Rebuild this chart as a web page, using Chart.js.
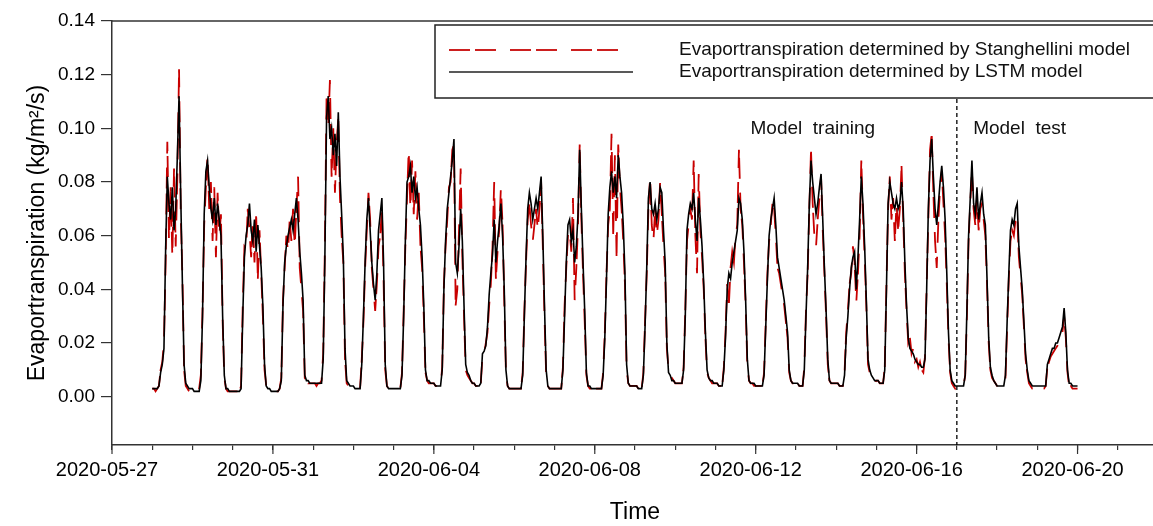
<!DOCTYPE html>
<html>
<head>
<meta charset="utf-8">
<script src="https://cdn.jsdelivr.net/npm/chart.js@4.4.0/dist/chart.umd.min.js"></script>
<style>
  html, body { margin: 0; padding: 0; background: #fff; overflow: hidden; }
  #wrap { width: 1153px; height: 526px; overflow: hidden; }
  canvas { display: block; }
</style>
</head>
<body>
<div id="wrap"><canvas id="myChart" width="1166" height="526"></canvas></div>
<script>
// hourly values, first point = 2020-05-28 00:00 (day 1 on the axis, axis day 0 = 2020-05-27)
const startDay = 1;

const lstm = [
  /* 05-28 */ 0.003,0.003,0.003,0.003,0.004,0.009,0.012,0.018,0.055,0.082,0.072,0.066,0.078,0.062,0.070,0.090,0.112,0.075,0.042,0.012,0.005,0.004,0.003,0.003,
  /* 05-29 */ 0.003,0.002,0.002,0.002,0.002,0.006,0.030,0.068,0.084,0.088,0.078,0.070,0.066,0.074,0.064,0.072,0.066,0.060,0.030,0.008,0.003,0.003,0.002,0.002,
  /* 05-30 */ 0.002,0.002,0.002,0.002,0.002,0.003,0.030,0.052,0.060,0.064,0.072,0.062,0.058,0.066,0.054,0.064,0.056,0.048,0.034,0.012,0.004,0.003,0.003,0.002,
  /* 05-31 */ 0.002,0.002,0.002,0.002,0.003,0.006,0.034,0.050,0.056,0.060,0.063,0.066,0.062,0.068,0.074,0.066,0.054,0.046,0.036,0.008,0.006,0.006,0.005,0.005,
  /* 06-01 */ 0.005,0.005,0.005,0.005,0.005,0.005,0.014,0.052,0.104,0.112,0.096,0.100,0.090,0.098,0.086,0.106,0.082,0.068,0.052,0.018,0.006,0.005,0.004,0.004,
  /* 06-02 */ 0.004,0.003,0.003,0.003,0.003,0.012,0.030,0.050,0.066,0.074,0.062,0.050,0.042,0.036,0.046,0.062,0.068,0.074,0.050,0.012,0.004,0.003,0.003,0.003,
  /* 06-03 */ 0.003,0.003,0.003,0.003,0.003,0.008,0.030,0.058,0.080,0.082,0.086,0.076,0.082,0.074,0.078,0.070,0.064,0.052,0.034,0.010,0.006,0.006,0.005,0.005,
  /* 06-04 */ 0.005,0.004,0.004,0.004,0.004,0.010,0.040,0.058,0.070,0.076,0.082,0.088,0.096,0.050,0.046,0.056,0.070,0.058,0.034,0.012,0.009,0.008,0.006,0.005,
  /* 06-05 */ 0.005,0.004,0.004,0.004,0.005,0.016,0.017,0.019,0.026,0.038,0.046,0.053,0.066,0.050,0.058,0.064,0.072,0.060,0.040,0.010,0.004,0.003,0.003,0.003,
  /* 06-06 */ 0.003,0.003,0.003,0.003,0.003,0.008,0.030,0.052,0.070,0.076,0.072,0.066,0.070,0.074,0.070,0.076,0.082,0.060,0.034,0.010,0.004,0.003,0.003,0.003,
  /* 06-07 */ 0.003,0.003,0.003,0.003,0.003,0.010,0.030,0.050,0.064,0.066,0.058,0.062,0.050,0.056,0.068,0.092,0.070,0.050,0.032,0.009,0.004,0.004,0.003,0.003,
  /* 06-08 */ 0.003,0.003,0.003,0.003,0.003,0.008,0.022,0.044,0.068,0.078,0.084,0.076,0.082,0.074,0.090,0.082,0.076,0.064,0.046,0.012,0.005,0.004,0.004,0.004,
  /* 06-09 */ 0.004,0.004,0.003,0.003,0.003,0.008,0.026,0.048,0.074,0.080,0.070,0.068,0.072,0.066,0.070,0.078,0.076,0.062,0.050,0.020,0.009,0.008,0.006,0.006,
  /* 06-10 */ 0.005,0.005,0.005,0.005,0.005,0.010,0.030,0.062,0.068,0.072,0.070,0.076,0.066,0.058,0.074,0.066,0.056,0.042,0.024,0.010,0.007,0.006,0.006,0.005,
  /* 06-11 */ 0.005,0.005,0.004,0.004,0.004,0.010,0.022,0.040,0.046,0.044,0.050,0.054,0.058,0.062,0.074,0.072,0.066,0.054,0.036,0.014,0.006,0.005,0.005,0.005,
  /* 06-12 */ 0.004,0.004,0.004,0.004,0.004,0.008,0.026,0.044,0.060,0.066,0.070,0.074,0.064,0.052,0.048,0.044,0.040,0.036,0.030,0.024,0.010,0.006,0.005,0.005,
  /* 06-13 */ 0.005,0.005,0.004,0.004,0.004,0.010,0.030,0.048,0.072,0.088,0.080,0.074,0.068,0.072,0.078,0.083,0.066,0.048,0.032,0.014,0.006,0.005,0.005,0.005,
  /* 06-14 */ 0.005,0.005,0.004,0.004,0.004,0.008,0.022,0.030,0.040,0.048,0.052,0.054,0.040,0.052,0.066,0.082,0.072,0.056,0.036,0.014,0.010,0.008,0.007,0.006,
  /* 06-15 */ 0.006,0.006,0.005,0.005,0.005,0.010,0.040,0.072,0.080,0.076,0.072,0.070,0.074,0.070,0.072,0.080,0.070,0.050,0.034,0.022,0.018,0.017,0.016,0.014,
  /* 06-16 */ 0.013,0.012,0.012,0.011,0.011,0.014,0.040,0.070,0.088,0.096,0.082,0.070,0.064,0.072,0.080,0.086,0.078,0.066,0.046,0.024,0.010,0.006,0.005,0.004,
  /* 06-17 */ 0.004,0.004,0.004,0.004,0.004,0.008,0.032,0.060,0.074,0.088,0.072,0.068,0.078,0.066,0.072,0.076,0.068,0.064,0.044,0.022,0.011,0.008,0.006,0.005,
  /* 06-18 */ 0.004,0.004,0.004,0.004,0.004,0.008,0.028,0.046,0.062,0.066,0.064,0.070,0.072,0.056,0.048,0.040,0.028,0.016,0.010,0.006,0.005,0.004,0.004,0.004,
  /* 06-19 */ 0.004,0.004,0.004,0.004,0.004,0.004,0.012,0.014,0.016,0.018,0.018,0.020,0.020,0.022,0.024,0.026,0.033,0.024,0.010,0.005,0.005,0.004,0.004,0.004,
  /* 06-20 */ 0.004
];

const stanghellini = [
  /* 05-28 */ 0.003,0.003,0.002,0.003,0.004,0.010,0.013,0.020,0.050,0.095,0.058,0.078,0.052,0.085,0.056,0.082,0.122,0.068,0.045,0.010,0.004,0.003,0.002,0.002,
  /* 05-29 */ 0.003,0.002,0.002,0.002,0.003,0.008,0.032,0.064,0.078,0.090,0.070,0.080,0.058,0.078,0.052,0.076,0.060,0.068,0.028,0.007,0.003,0.002,0.002,0.002,
  /* 05-30 */ 0.002,0.002,0.002,0.002,0.002,0.004,0.034,0.056,0.055,0.070,0.062,0.052,0.066,0.050,0.068,0.044,0.062,0.046,0.030,0.010,0.004,0.003,0.002,0.002,
  /* 05-31 */ 0.002,0.002,0.002,0.002,0.003,0.007,0.036,0.048,0.060,0.054,0.066,0.058,0.070,0.056,0.070,0.082,0.048,0.040,0.032,0.007,0.006,0.005,0.005,0.005,
  /* 06-01 */ 0.005,0.005,0.004,0.005,0.005,0.006,0.016,0.056,0.112,0.100,0.118,0.082,0.100,0.076,0.094,0.104,0.074,0.060,0.050,0.014,0.005,0.004,0.004,0.004,
  /* 06-02 */ 0.004,0.003,0.003,0.003,0.003,0.014,0.028,0.048,0.062,0.076,0.066,0.048,0.040,0.032,0.042,0.056,0.060,0.070,0.044,0.010,0.004,0.003,0.003,0.003,
  /* 06-03 */ 0.003,0.003,0.003,0.003,0.003,0.009,0.032,0.056,0.074,0.092,0.070,0.088,0.068,0.084,0.066,0.076,0.056,0.048,0.030,0.009,0.006,0.005,0.005,0.005,
  /* 06-04 */ 0.005,0.004,0.004,0.004,0.004,0.011,0.042,0.056,0.066,0.078,0.080,0.092,0.094,0.034,0.040,0.062,0.085,0.052,0.030,0.010,0.008,0.007,0.006,0.005,
  /* 06-05 */ 0.005,0.004,0.004,0.004,0.005,0.015,0.016,0.020,0.024,0.034,0.042,0.056,0.080,0.044,0.054,0.062,0.078,0.064,0.036,0.009,0.004,0.003,0.003,0.003,
  /* 06-06 */ 0.003,0.003,0.003,0.003,0.003,0.009,0.032,0.050,0.066,0.072,0.064,0.058,0.064,0.070,0.062,0.070,0.080,0.056,0.030,0.008,0.004,0.003,0.003,0.003,
  /* 06-07 */ 0.003,0.003,0.003,0.003,0.003,0.011,0.034,0.048,0.060,0.062,0.054,0.074,0.036,0.048,0.064,0.094,0.066,0.046,0.028,0.008,0.004,0.003,0.003,0.003,
  /* 06-08 */ 0.003,0.003,0.003,0.003,0.003,0.009,0.024,0.046,0.064,0.070,0.098,0.060,0.090,0.052,0.094,0.078,0.070,0.058,0.042,0.010,0.005,0.004,0.004,0.004,
  /* 06-09 */ 0.004,0.004,0.003,0.003,0.003,0.009,0.028,0.046,0.070,0.082,0.064,0.058,0.070,0.060,0.066,0.080,0.068,0.056,0.046,0.018,0.010,0.008,0.007,0.006,
  /* 06-10 */ 0.005,0.005,0.005,0.005,0.005,0.011,0.032,0.058,0.064,0.070,0.066,0.088,0.060,0.046,0.083,0.062,0.052,0.040,0.022,0.009,0.007,0.006,0.005,0.005,
  /* 06-11 */ 0.005,0.005,0.004,0.004,0.004,0.011,0.024,0.042,0.034,0.048,0.054,0.050,0.060,0.064,0.092,0.070,0.064,0.050,0.034,0.012,0.006,0.005,0.005,0.004,
  /* 06-12 */ 0.004,0.004,0.004,0.004,0.004,0.009,0.028,0.046,0.058,0.064,0.072,0.070,0.060,0.048,0.046,0.042,0.038,0.034,0.028,0.022,0.009,0.006,0.005,0.005,
  /* 06-13 */ 0.005,0.005,0.004,0.004,0.004,0.011,0.032,0.046,0.070,0.092,0.072,0.060,0.056,0.066,0.074,0.082,0.062,0.046,0.030,0.012,0.006,0.005,0.005,0.005,
  /* 06-14 */ 0.005,0.005,0.004,0.004,0.004,0.009,0.024,0.032,0.042,0.046,0.056,0.050,0.035,0.046,0.060,0.088,0.068,0.052,0.034,0.012,0.009,0.008,0.006,0.005,
  /* 06-15 */ 0.006,0.006,0.005,0.005,0.005,0.011,0.042,0.070,0.082,0.066,0.074,0.058,0.072,0.062,0.070,0.086,0.066,0.046,0.032,0.020,0.022,0.016,0.018,0.013,
  /* 06-16 */ 0.014,0.011,0.013,0.010,0.009,0.015,0.042,0.066,0.092,0.098,0.076,0.058,0.048,0.066,0.078,0.084,0.072,0.060,0.042,0.022,0.009,0.005,0.004,0.003,
  /* 06-17 */ 0.004,0.004,0.004,0.004,0.004,0.008,0.030,0.058,0.072,0.084,0.070,0.064,0.074,0.062,0.070,0.072,0.066,0.060,0.042,0.020,0.010,0.007,0.006,0.005,
  /* 06-18 */ 0.004,0.004,0.004,0.004,0.004,0.007,0.026,0.044,0.058,0.062,0.060,0.066,0.068,0.052,0.045,0.038,0.026,0.014,0.009,0.005,0.004,0.003,0.003,0.003,
  /* 06-19 */ 0.004,0.004,0.003,0.003,0.003,0.004,0.011,0.013,0.015,0.016,0.017,0.018,0.019,0.020,0.022,0.024,0.030,0.022,0.009,0.004,0.004,0.003,0.003,0.003,
  /* 06-20 */ 0.003
];

const xTickLabels = ['2020-05-27', '2020-05-31', '2020-06-04', '2020-06-08', '2020-06-12', '2020-06-16', '2020-06-20'];
const yTicks = [0, 0.02, 0.04, 0.06, 0.08, 0.10, 0.12, 0.14];
const splitDay = 21; // 2020-06-17, end of training

const legendNames = [
  'Evaportranspiration determined by Stanghellini model',
  'Evaportranspiration determined by LSTM model'
];

const fam = "'Liberation Sans', Arial, sans-serif";

const lstmPts = lstm.map((v, i) => ({ x: startDay + i / 24, y: v }));
const stanPts = stanghellini.map((v, i) => ({ x: startDay + i / 24, y: v }));

// frame, legend box, split line, annotations
const extras = {
    id: 'extras',
    afterDraw(chart) {
        const c = chart.ctx;
        const a = chart.chartArea;
        const xs = chart.scales.x;
        const ys = chart.scales.y;
        c.save();

        // top frame line
        c.strokeStyle = '#333';
        c.lineWidth = 1.5;
        c.beginPath();
        c.moveTo(a.left, a.top);
        c.lineTo(a.right + 10, a.top);
        c.stroke();

        // longer major ticks on x
        c.lineWidth = 1.2;
        for (let d = 0; d <= 26; d += 4) {
            const px = xs.getPixelForValue(d);
            c.beginPath();
            c.moveTo(px, a.bottom);
            c.lineTo(px, a.bottom + 9);
            c.stroke();
        }

        // training / test split
        const sx = xs.getPixelForValue(splitDay);
        c.strokeStyle = '#000';
        c.lineWidth = 1.3;
        c.setLineDash([4, 3]);
        c.beginPath();
        c.moveTo(sx, 99);
        c.lineTo(sx, a.bottom);
        c.stroke();
        c.setLineDash([]);

        // legend box
        c.fillStyle = '#fff';
        c.fillRect(435, 25, 760, 73);
        c.strokeStyle = '#222';
        c.lineWidth = 1.5;
        c.strokeRect(435, 25, 760, 73);

        c.strokeStyle = '#cc1f1f';
        c.lineWidth = 1.8;
        c.setLineDash([21, 5, 21, 14]);
        c.beginPath();
        c.moveTo(449, 50);
        c.lineTo(618, 50);
        c.stroke();
        c.setLineDash([]);

        c.strokeStyle = '#222';
        c.lineWidth = 1.5;
        c.beginPath();
        c.moveTo(449, 72);
        c.lineTo(633, 72);
        c.stroke();

        c.fillStyle = '#111';
        c.font = '19px ' + fam;
        c.textBaseline = 'middle';
        c.textAlign = 'left';
        c.fillText(legendNames[0], 679, 50);
        c.fillText(legendNames[1], 679, 72);

        // period labels
        c.textAlign = 'center';
        const ly = ys.getPixelForValue(0.1);
        c.fillText('Model  training', xs.getPixelForValue(17.42), ly);
        c.fillText('Model  test', xs.getPixelForValue(22.56), ly);

        c.restore();
    }
};

const grafica = document.querySelector('#myChart');

new Chart(grafica, {
    type: 'line',
    data: {
        datasets: [
            {
                label: legendNames[1],
                data: lstmPts,
                borderColor: '#000',
                borderWidth: 1.6,
                pointRadius: 0,
                tension: 0,
                order: 0
            },
            {
                label: legendNames[0],
                data: stanPts,
                borderColor: '#c80000',
                borderWidth: 1.8,
                borderDash: [21, 5, 21, 14],
                pointRadius: 0,
                tension: 0,
                order: 1
            }
        ]
    },
    options: {
        responsive: false,
        animation: false,
        layout: { padding: { top: 21, right: 3, left: 0, bottom: 0 } },
        plugins: {
            legend: { display: false },
            tooltip: { enabled: false }
        },
        scales: {
            x: {
                type: 'linear',
                min: 0,
                max: 26,
                afterFit: (s) => { s.height = 81; },
                afterBuildTicks: (s) => { s.ticks = Array.from({ length: 27 }, (_, i) => ({ value: i })); },
                border: { display: true, color: '#333', width: 1.5 },
                grid: { drawOnChartArea: false, drawTicks: true, tickLength: 5, color: '#333', lineWidth: 1.2 },
                ticks: {
                    autoSkip: false,
                    maxRotation: 0,
                    padding: 8,
                    labelOffset: -5,
                    color: '#000',
                    font: { family: fam, size: 20 },
                    callback: (v) => (v % 4 === 0 ? xTickLabels[v / 4] : '')
                },
                title: {
                    display: true,
                    text: 'Time',
                    color: '#000',
                    font: { family: fam, size: 23 },
                    padding: { top: 0, bottom: 0 }
                }
            },
            y: {
                min: -0.018,
                max: 0.14,
                afterFit: (s) => { s.width = 112; },
                afterBuildTicks: (s) => { s.ticks = yTicks.map((v) => ({ value: v })); },
                border: { display: true, color: '#333', width: 1.5 },
                grid: { drawOnChartArea: false, drawTicks: true, tickLength: 11, color: '#333', lineWidth: 1.2 },
                ticks: {
                    padding: 6,
                    color: '#000',
                    font: { family: fam, size: 19 },
                    callback: (v) => v.toFixed(2)
                },
                title: {
                    display: true,
                    text: 'Evaportranspiration (kg/m²/s)',
                    color: '#000',
                    font: { family: fam, size: 23 },
                    padding: { top: 24, bottom: 0 }
                }
            }
        }
    },
    plugins: [extras]
});
</script>
</body>
</html>
